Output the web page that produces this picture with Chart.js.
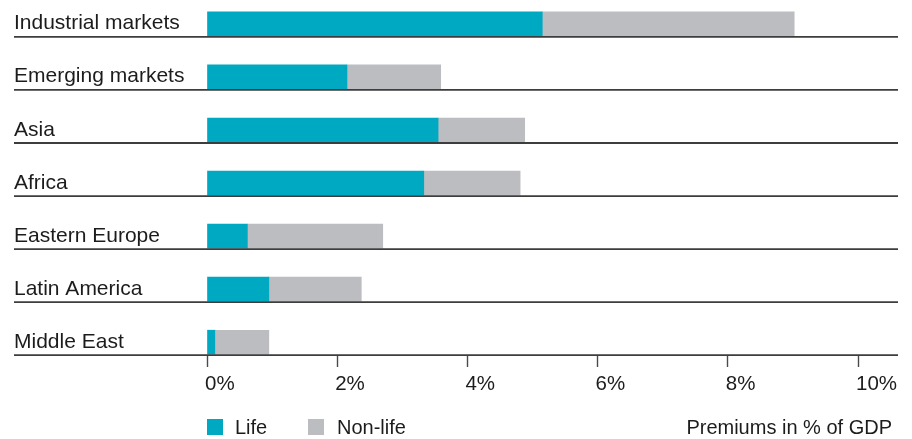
<!DOCTYPE html>
<html>
<head>
<meta charset="utf-8">
<script src="https://cdn.jsdelivr.net/npm/chart.js@4"></script>
<style>
  html, body { margin: 0; padding: 0; background: #ffffff; }
  #wrap { position: relative; width: 912px; height: 439px; }
</style>
</head>
<body>
<div id="wrap"><canvas id="c" width="912" height="439"></canvas></div>
<script>
const categories = ["Industrial markets", "Emerging markets", "Asia", "Africa", "Eastern Europe", "Latin America", "Middle East"];
const lifeValues = [5.15, 2.15, 3.55, 3.33, 0.62, 0.95, 0.12];
const nonLifeValues = [3.87, 1.44, 1.33, 1.48, 2.08, 1.42, 0.83];
const tickValues = [0, 2, 4, 6, 8, 10];
const seriesNames = ["Life", "Non-life"];
const axisNote = "Premiums in % of GDP";

const TEAL = "#00a9c2";
const GREY = "#bcbdc1";
const INK = "#1c1c1c";
const RULE = "#3d3d3d";
const FONT = "'Liberation Sans', Arial, sans-serif";
const Y_MIN = -0.4505, Y_MAX = 6.26;

const toPoints = arr => arr.map((v, i) => ({ x: v, y: i }));

const decor = {
  id: "decor",
  afterDatasetsDraw(chart) {
    const ctx = chart.ctx;
    const ys = chart.scales.y;
    const xs = chart.scales.x;
    ctx.save();
    categories.forEach((name, i) => {
      const yc = ys.getPixelForValue(i);
      ctx.strokeStyle = RULE;
      ctx.lineWidth = 1.8;
      ctx.beginPath();
      ctx.moveTo(14, yc + 13);
      ctx.lineTo(898, yc + 13);
      ctx.stroke();
      ctx.fillStyle = INK;
      ctx.font = "21px " + FONT;
      ctx.textAlign = "left";
      ctx.textBaseline = "alphabetic";
      ctx.fillText(name, 14, yc + 5.5);
    });
    const lx = xs.getPixelForValue(0);
    ctx.font = "20px " + FONT;
    ctx.textBaseline = "alphabetic";
    ctx.fillStyle = TEAL;
    ctx.fillRect(lx, 419, 16, 16);
    ctx.fillStyle = INK;
    ctx.fillText(seriesNames[0], lx + 28, 434);
    ctx.fillStyle = GREY;
    ctx.fillRect(lx + 101, 419, 16, 16);
    ctx.fillStyle = INK;
    ctx.fillText(seriesNames[1], lx + 130, 434);
    ctx.textAlign = "right";
    ctx.fillText(axisNote, 892, 434);
    ctx.restore();
  }
};

new Chart(document.getElementById("c"), {
  type: "bar",
  data: {
    datasets: [
      { label: seriesNames[0], data: toPoints(lifeValues), backgroundColor: TEAL, barThickness: 24, grouped: false, borderWidth: 0, clip: false },
      { label: seriesNames[1], data: toPoints(nonLifeValues), backgroundColor: GREY, barThickness: 24, grouped: false, borderWidth: 0, clip: false }
    ]
  },
  options: {
    indexAxis: "y",
    responsive: false,
    animation: false,
    maintainAspectRatio: false,
    layout: { padding: { left: 207, right: 54, top: 0, bottom: 0 } },
    plugins: { legend: { display: false }, tooltip: { enabled: false } },
    scales: {
      x: {
        type: "linear",
        stacked: true,
        min: 0,
        max: 10,
        offset: false,
        afterBuildTicks(scale) { scale.ticks = tickValues.map(v => ({ value: v })); scale.min = 0; scale.max = 10; },
        afterFit(scale) { scale.height = 83; },
        border: { display: false },
        grid: { display: true, offset: false, drawOnChartArea: false, drawTicks: true, tickLength: 11, tickColor: "#4a4a4a", tickWidth: 1.4 },
        ticks: {
          align: "start",
          padding: 5,
          labelOffset: -2,
          color: INK,
          font: { family: FONT, size: 20.5 },
          callback: v => v + "%"
        }
      },
      y: {
        type: "linear",
        reverse: true,
        display: false,
        offset: false,
        grid: { offset: false },
        bounds: "data",
        min: Y_MIN,
        max: Y_MAX,
        afterBuildTicks(scale) { scale.min = Y_MIN; scale.max = Y_MAX; }
      }
    }
  },
  plugins: [decor]
});
</script>
</body>
</html>
